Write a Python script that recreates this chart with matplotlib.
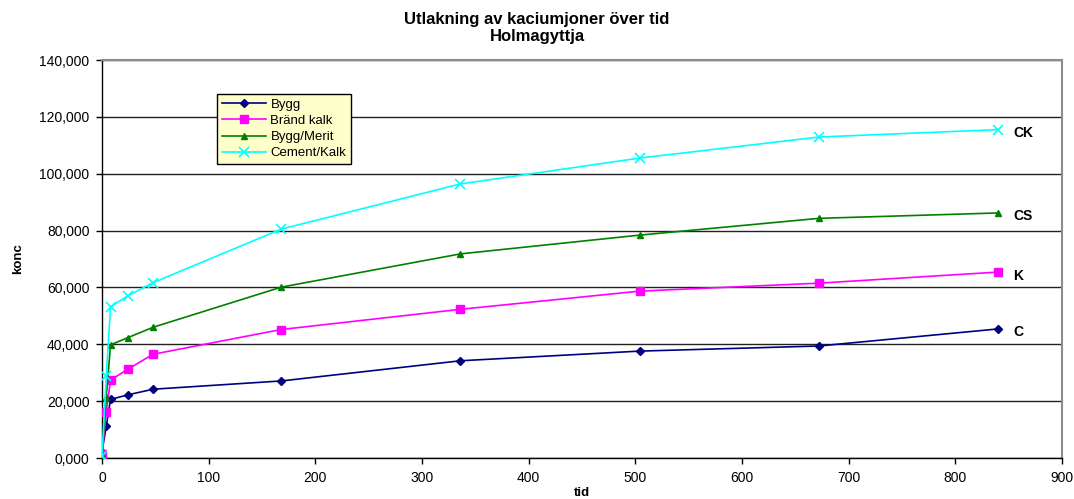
import matplotlib
matplotlib.use("Agg")
import matplotlib.pyplot as plt
from matplotlib.ticker import FuncFormatter, MultipleLocator

plt.rcParams['font.family'] = ['Liberation Sans', 'DejaVu Sans']

# Leaching time (hours) and calcium concentration per stabilisation recipe
tid = [0, 4, 8, 24, 48, 168, 336, 504, 672, 840]
bygg = [2.2, 11.2, 20.6, 22.2, 24.2, 27.1, 34.2, 37.6, 39.4, 45.4]
brand_kalk = [1.3, 16.3, 27.4, 31.2, 36.5, 45.2, 52.3, 58.7, 61.5, 65.4]
bygg_merit = [1.0, 21.4, 39.8, 42.3, 46.0, 60.1, 71.8, 78.4, 84.3, 86.2]
cement_kalk = [0.7, 28.8, 53.2, 57.0, 61.7, 80.5, 96.4, 105.5, 112.9, 115.5]

series_names = ["Bygg", "Bränd kalk", "Bygg/Merit", "Cement/Kalk"]
end_labels = ["C", "K", "CS", "CK"]

fig = plt.figure(figsize=(10.74, 4.99), dpi=100)
ax = fig.add_axes([102 / 1074, 1 - 458 / 499, 960 / 1074, 398 / 499])

styles = [
    dict(color="#000080", marker="D", markersize=4.5),
    dict(color="#FF00FF", marker="s", markersize=6),
    dict(color="#008000", marker="^", markersize=4.5),
    dict(color="#00FFFF", marker="x", markersize=6.5, markeredgewidth=1.2),
]
data = [bygg, brand_kalk, bygg_merit, cement_kalk]

for name, values, st in zip(series_names, data, styles):
    ax.plot(tid, values, label=name, linewidth=1.2, zorder=3, **st)

# Series tags to the right of the last point
for values, tag in zip(data, end_labels):
    ax.annotate(tag, xy=(tid[-1], values[-1]), xytext=(11, -2.5),
                textcoords="offset points", fontsize=10, fontweight="bold",
                ha="left", va="center")

ax.set_xlim(0, 900)
ax.set_ylim(0, 140)
ax.xaxis.set_major_locator(MultipleLocator(100))
ax.yaxis.set_major_locator(MultipleLocator(20))
ax.yaxis.set_major_formatter(FuncFormatter(lambda v, p: f"{v:.3f}".replace(".", ",")))
ax.tick_params(axis="both", direction="out", length=4, width=1, labelsize=10,
               colors="black")
ax.tick_params(axis="y", pad=5)
ax.tick_params(axis="x", pad=5)

ax.grid(axis="y", color="#222222", linewidth=1.0, zorder=1)
ax.set_axisbelow(True)
for side in ("top", "right"):
    ax.spines[side].set_color("#8c8c8c")
    ax.spines[side].set_linewidth(1.5)
for side in ("left", "bottom"):
    ax.spines[side].set_color("black")
    ax.spines[side].set_linewidth(1.0)

ax.set_xlabel("tid", fontsize=9.5, fontweight="bold", labelpad=1.5)
ax.set_ylabel("konc", fontsize=9.5, fontweight="bold", labelpad=11)

fig.suptitle("Utlakning av kaciumjoner över tid\nHolmagyttja", fontsize=12,
             fontweight="bold", y=0.975, linespacing=1.15)

leg = ax.legend(loc="upper left", bbox_to_anchor=((217 - 102) / 960, (458 - 94) / 398),
                fontsize=9.5, frameon=True, fancybox=False, handlelength=3.4,
                handletextpad=0.3, borderpad=0.35, labelspacing=0.3,
                borderaxespad=0)
leg.get_frame().set_facecolor("#FFFFCC")
leg.get_frame().set_edgecolor("black")
leg.get_frame().set_linewidth(1.0)
leg.get_frame().set_alpha(1)

fig.savefig("out.png", dpi=100)
